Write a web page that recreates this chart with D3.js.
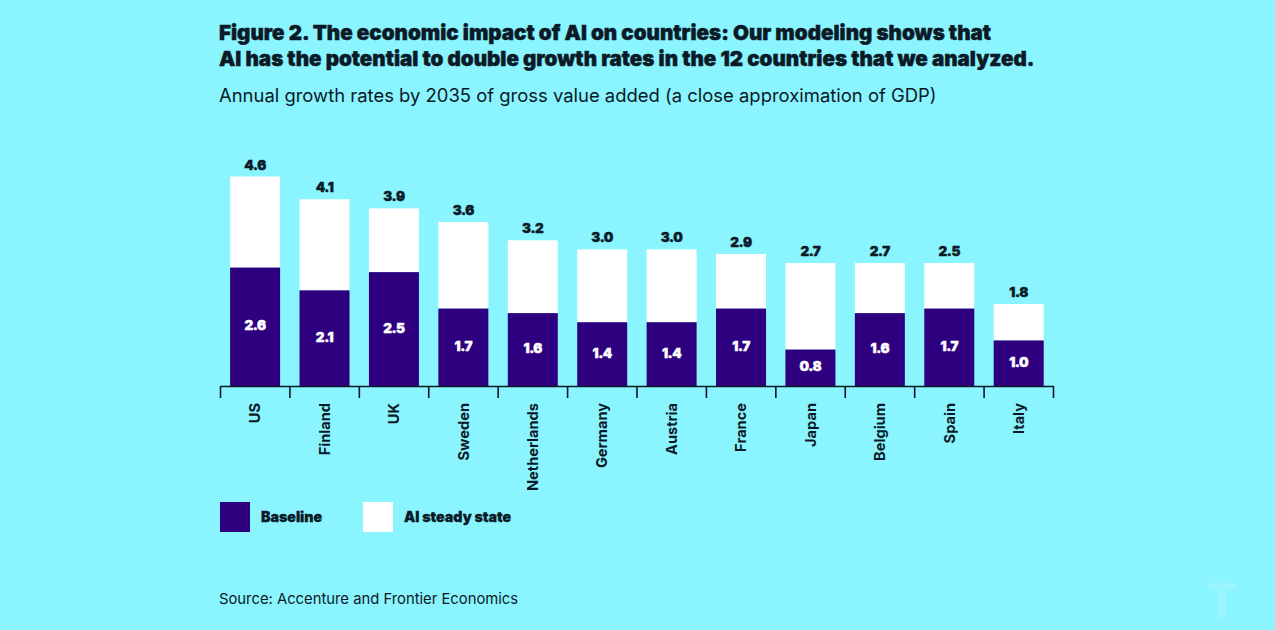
<!DOCTYPE html>
<html>
<head>
<meta charset="utf-8">
<script src="https://cdn.jsdelivr.net/npm/d3@7"></script>
<style>
  html, body { margin: 0; padding: 0; background: #8af4ff; overflow: hidden; }
  text { font-family: Inter, "Open Sans", sans-serif; fill: #0a1a26; }
</style>
</head>
<body>
<div id="chart"></div>
<script>
const countries = ['US', 'Finland', 'UK', 'Sweden', 'Netherlands', 'Germany', 'Austria', 'France', 'Japan', 'Belgium', 'Spain', 'Italy'];
const baseline = [2.6, 2.1, 2.5, 1.7, 1.6, 1.4, 1.4, 1.7, 0.8, 1.6, 1.7, 1.0];
// bar tops as drawn in the picture; Spain's bar reaches 2.7 although it is labelled 2.5
const steadyState = [4.6, 4.1, 3.9, 3.6, 3.2, 3.0, 3.0, 2.9, 2.7, 2.7, 2.7, 1.8];
const steadyLabels = ['4.6', '4.1', '3.9', '3.6', '3.2', '3.0', '3.0', '2.9', '2.7', '2.7', '2.5', '1.8'];
const baselineLabels = ['2.6', '2.1', '2.5', '1.7', '1.6', '1.4', '1.4', '1.7', '0.8', '1.6', '1.7', '1.0'];
const titleLines = [
  'Figure 2. The economic impact of AI on countries: Our modeling shows that',
  'AI has the potential to double growth rates in the 12 countries that we analyzed.'
];
const subtitle = 'Annual growth rates by 2035 of gross value added (a close approximation of GDP)';
const source = 'Source: Accenture and Frontier Economics';
const legendItems = ['Baseline', 'AI steady state'];

const width = 1275;
const height = 630;
const purple = '#2e0080';
const ink = '#0a1a26';

const svg = d3.select('#chart').append('svg').attr('width', width).attr('height', height).style('display', 'block');

svg.append('rect').attr('width', width).attr('height', height).attr('fill', '#8af4ff');

const left = 220;
const right = 1053;
const axisY = 386;

const x = d3.scaleBand().domain(countries).range([left, right]).paddingInner(0.28).paddingOuter(0.14);
const y = d3.scaleLinear().domain([0, 4.6]).range([axisY, 176.5]);

// titles
svg.selectAll('.title')
  .data(titleLines)
  .enter()
  .append('text')
  .attr('class', 'title')
  .attr('x', 219)
  .attr('y', (d, i) => 39.5 + i * 26)
  .attr('font-size', 20.6)
  .attr('font-weight', 900)
  .attr('stroke', ink)
  .attr('stroke-width', 0.45)
  .text((d) => d);

svg.append('text').attr('x', 219).attr('y', 102).attr('font-size', 18.45).attr('font-weight', 400).text(subtitle);

// bars
svg.selectAll('.steady')
  .data(countries)
  .enter()
  .append('rect')
  .attr('class', 'steady')
  .attr('x', (d) => x(d) + 0.4)
  .attr('y', (d, i) => y(steadyState[i]))
  .attr('width', x.bandwidth())
  .attr('height', (d, i) => y(baseline[i]) - y(steadyState[i]))
  .attr('fill', '#fff');

svg.selectAll('.base')
  .data(countries)
  .enter()
  .append('rect')
  .attr('class', 'base')
  .attr('x', (d) => x(d) + 0.4)
  .attr('y', (d, i) => y(baseline[i]))
  .attr('width', x.bandwidth())
  .attr('height', (d, i) => axisY - y(baseline[i]))
  .attr('fill', purple);

svg.selectAll('.steady-label')
  .data(countries)
  .enter()
  .append('text')
  .attr('class', 'steady-label')
  .attr('x', (d) => x(d) + x.bandwidth() / 2 + 0.4)
  .attr('y', (d, i) => y(steadyState[i]) - 7)
  .attr('text-anchor', 'middle')
  .attr('font-size', 13.5)
  .attr('font-weight', 900)
  .attr('letter-spacing', -0.4)
  .attr('stroke', ink)
  .attr('stroke-width', 0.4)
  .text((d, i) => steadyLabels[i]);

svg.selectAll('.base-label')
  .data(countries)
  .enter()
  .append('text')
  .attr('class', 'base-label')
  .attr('x', (d) => x(d) + x.bandwidth() / 2 + 0.4)
  .attr('y', (d, i) => y(baseline[i] / 2) + 3.5)
  .attr('text-anchor', 'middle')
  .attr('font-size', 13.5)
  .attr('font-weight', 900)
  .attr('letter-spacing', -0.4)
  .attr('stroke', '#fff')
  .attr('stroke-width', 0.4)
  .style('fill', '#fff')
  .text((d, i) => baselineLabels[i]);

// axis: ticks sit on the band edges, labels on the band centres
const edges = d3.scaleLinear().domain([0, countries.length]).range([left, right]);
const tickAxis = svg.append('g')
  .attr('transform', `translate(0, ${axisY})`)
  .call(d3.axisBottom(edges).tickValues(d3.range(countries.length + 1)).tickSize(12).tickSizeOuter(0).tickFormat(''));
tickAxis.selectAll('path, line').attr('stroke', ink).attr('stroke-width', 1.6);

const labelAxis = svg.append('g')
  .attr('transform', `translate(0, ${axisY})`)
  .call(d3.axisBottom(x).tickSize(0).tickPadding(0));
labelAxis.select('.domain').remove();
labelAxis.selectAll('text')
  .attr('transform', 'translate(0.5, 17) rotate(-90)')
  .attr('text-anchor', 'end')
  .attr('x', 0)
  .attr('y', 0)
  .attr('dy', '0.35em')
  .attr('font-family', 'Inter')
  .attr('font-size', 14.6)
  .attr('font-weight', 700);

// legend
const legendX = d3.scaleOrdinal().domain(legendItems).range([220, 363]);
const legendFill = d3.scaleOrdinal().domain(legendItems).range([purple, '#fff']);

svg.selectAll('.legend-box')
  .data(legendItems)
  .enter()
  .append('rect')
  .attr('class', 'legend-box')
  .attr('x', (d) => legendX(d))
  .attr('y', 502)
  .attr('width', 30)
  .attr('height', 30)
  .attr('fill', (d) => legendFill(d));

svg.selectAll('.legend-label')
  .data(legendItems)
  .enter()
  .append('text')
  .attr('class', 'legend-label')
  .attr('x', (d) => legendX(d) + 41)
  .attr('y', 522)
  .attr('font-size', 14.2)
  .attr('font-weight', 900)
  .attr('stroke', ink)
  .attr('stroke-width', 0.3)
  .text((d) => d);

svg.append('text').attr('x', 219).attr('y', 604).attr('font-size', 14.8).text(source);

// faint watermark, bottom right
svg.append('text')
  .attr('x', 1222)
  .attr('y', 618)
  .attr('text-anchor', 'middle')
  .attr('font-size', 48)
  .attr('font-weight', 700)
  .style('fill', '#fff')
  .attr('opacity', 0.14)
  .text('T');
</script>
</body>
</html>
